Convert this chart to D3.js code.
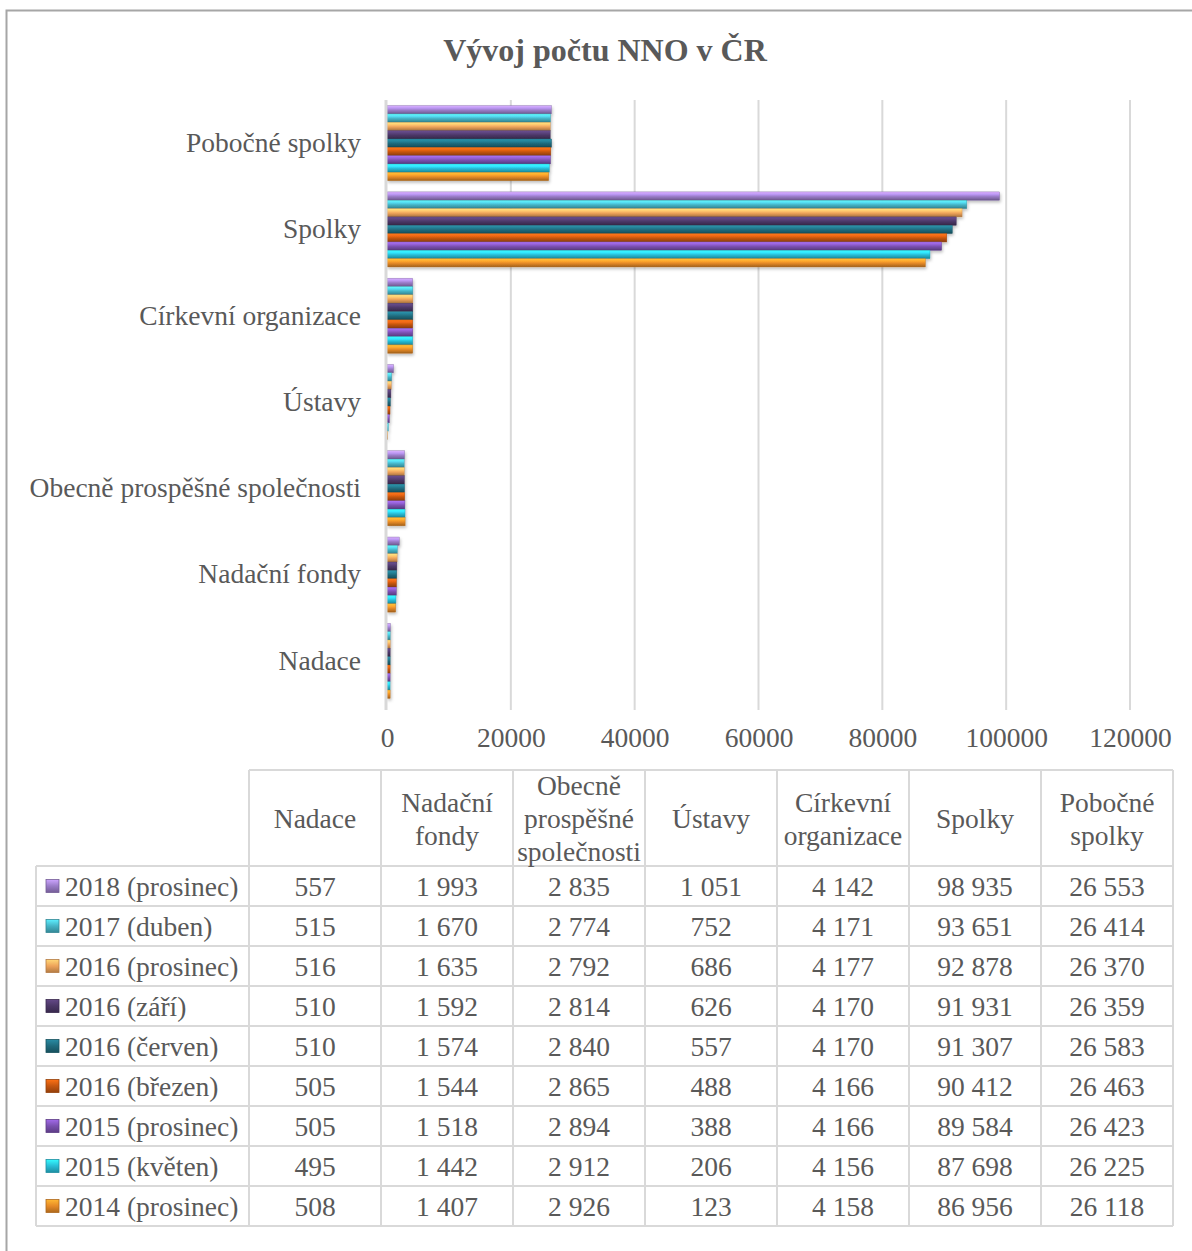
<!DOCTYPE html>
<html><head><meta charset="utf-8">
<script src="https://cdn.jsdelivr.net/npm/d3@7"></script>
<style>body{margin:0;background:#fff}svg{display:block;font-family:"Liberation Serif","Times New Roman",serif}</style>
</head><body><svg id="c" width="1192" height="1251"></svg>
<script>
const categories = ["Nadace","Nadační fondy","Obecně prospěšné společnosti","Ústavy","Církevní organizace","Spolky","Pobočné spolky"];
const headerLines = [["Nadace"],["Nadační","fondy"],["Obecně","prospěšné","společnosti"],["Ústavy"],["Církevní","organizace"],["Spolky"],["Pobočné","spolky"]];
const seriesNames = ["2018 (prosinec)","2017 (duben)","2016 (prosinec)","2016 (září)","2016 (červen)","2016 (březen)","2015 (prosinec)","2015 (květen)","2014 (prosinec)"];
const s2018pro = [557,1993,2835,1051,4142,98935,26553];
const s2017dub = [515,1670,2774,752,4171,93651,26414];
const s2016pro = [516,1635,2792,686,4177,92878,26370];
const s2016zar = [510,1592,2814,626,4170,91931,26359];
const s2016cer = [510,1574,2840,557,4170,91307,26583];
const s2016bre = [505,1544,2865,488,4166,90412,26463];
const s2015pro = [505,1518,2894,388,4166,89584,26423];
const s2015kve = [495,1442,2912,206,4156,87698,26225];
const s2014pro = [508,1407,2926,123,4158,86956,26118];
const seriesValues = [s2018pro,s2017dub,s2016pro,s2016zar,s2016cer,s2016bre,s2015pro,s2015kve,s2014pro];
const xTicks = [0,20000,40000,60000,80000,100000,120000];
const colors = ["#9a7cc8","#45b4c6","#eea35a","#4b3766","#1f6a7c","#c4550f","#7a50b0","#28bdd6","#e68a26"];

const svg = d3.select("#c");
const txt = "#595959";
const FS = 27.5;
svg.append("rect").attr("x",6.5).attr("y",10.5).attr("width",1200).attr("height",1260)
  .attr("fill","none").attr("stroke","#a6a6a6").attr("stroke-width",2);

svg.append("text").attr("x",605).attr("y",61).attr("text-anchor","middle")
  .attr("font-size",32).attr("font-weight","bold").attr("fill",txt).text("Vývoj počtu NNO v ČR");

const defs = svg.append("defs");
colors.forEach((c,i)=>{
  const base = d3.color(c);
  const g = defs.append("linearGradient").attr("id","g"+i).attr("x1",0).attr("y1",0).attr("x2",0).attr("y2",1);
  [[0,base.brighter(1.0)],[0.3,base.brighter(0.55)],[0.55,base],[0.8,base.darker(0.5)],[1,base.darker(1.1)]]
    .forEach(([o,col])=>g.append("stop").attr("offset",o).attr("stop-color",col.formatHex()));
  const lg = defs.append("linearGradient").attr("id","l"+i).attr("x1",0).attr("y1",0).attr("x2",0).attr("y2",1);
  [[0,base.brighter(0.8)],[0.5,base],[1,base.darker(0.8)]]
    .forEach(([o,col])=>lg.append("stop").attr("offset",o).attr("stop-color",col.formatHex()));
});
const f = defs.append("filter").attr("id","sh").attr("x","-5%").attr("y","-20%").attr("width","120%").attr("height","160%");
f.append("feDropShadow").attr("dx",1).attr("dy",2).attr("stdDeviation",1.5).attr("flood-color","#000").attr("flood-opacity",0.25);

const x = d3.scaleLinear().domain([0,120000]).range([387,1130]);
const y0 = d3.scaleBand().domain(categories.slice().reverse()).range([100,704]).paddingInner(0.13).paddingOuter(0.065);
const y1 = d3.scaleBand().domain(seriesNames).range([0,y0.bandwidth()]);

svg.append("g").selectAll("line").data(xTicks.slice(1)).join("line")
  .attr("x1",d=>x(d)).attr("x2",d=>x(d)).attr("y1",100).attr("y2",710)
  .attr("stroke","#d9d9d9").attr("stroke-width",2);

const bars = svg.append("g").attr("filter","url(#sh)");
categories.forEach((cat,ci)=>{
  seriesNames.forEach((s,si)=>{
    const v = seriesValues[si][ci];
    bars.append("rect").attr("x",x(0)).attr("y",y0(cat)+y1(s))
      .attr("width",x(v)-x(0)).attr("height",y1.bandwidth())
      .attr("fill",`url(#g${si})`).attr("stroke",d3.color(colors[si]).darker(0.6)).attr("stroke-width",0.4);
  });
});
svg.append("line").attr("x1",x(0)-1).attr("x2",x(0)-1).attr("y1",100).attr("y2",710).attr("stroke","#d9d9d9").attr("stroke-width",3);

const yAxis = d3.axisLeft(y0).tickSize(0).tickPadding(0);
const ya = svg.append("g").attr("transform","translate(361,0)").call(yAxis);
ya.select(".domain").remove();
ya.selectAll("text").attr("font-size",FS).attr("fill",txt).attr("font-family","Liberation Serif");

const xAxis = d3.axisBottom(x).tickValues(xTicks).tickFormat(d3.format("d")).tickSize(0).tickPadding(0);
const xa = svg.append("g").attr("transform","translate(0,727)").call(xAxis);
xa.select(".domain").remove();
xa.selectAll("text").attr("font-size",FS).attr("fill",txt).attr("font-family","Liberation Serif").attr("dy","0.71em");

const loc = d3.formatLocale({decimal:",",thousands:"\u00a0",grouping:[3],currency:["","Kč"]});
const fmt = loc.format(",d");
const colX = d3.scaleBand().domain(categories).range([249,1173]);
const legendX0 = 36, headTop = 770, headBot = 866, rowH = 40;
const rowY = d3.scaleBand().domain(seriesNames).range([headBot, headBot + rowH*seriesNames.length]);
const tg = svg.append("g");
const lc = "#d9d9d9";
tg.append("line").attr("x1",249).attr("x2",1173).attr("y1",headTop).attr("y2",headTop).attr("stroke",lc).attr("stroke-width",2);
seriesNames.concat(["end"]).forEach((s,i)=>{
  const yy = headBot + i*rowH;
  tg.append("line").attr("x1",legendX0).attr("x2",1173).attr("y1",yy).attr("y2",yy).attr("stroke",lc).attr("stroke-width",2);
});
tg.append("line").attr("x1",legendX0).attr("x2",legendX0).attr("y1",headBot).attr("y2",headBot+rowH*9).attr("stroke",lc).attr("stroke-width",2);
categories.concat(["end"]).forEach((c,i)=>{
  const xx = 249 + i*colX.step();
  tg.append("line").attr("x1",xx).attr("x2",xx).attr("y1",headTop).attr("y2",headBot+rowH*9).attr("stroke",lc).attr("stroke-width",2);
});
categories.forEach((c,i)=>{
  const lines = headerLines[i];
  const cx = colX(c)+colX.bandwidth()/2;
  const cy = 828 - (lines.length-1)*33/2;
  lines.forEach((ln,j)=>{
    tg.append("text").attr("x",cx).attr("y",cy+j*33).attr("text-anchor","middle").attr("font-size",FS).attr("fill",txt).text(ln);
  });
});
seriesNames.forEach((s,si)=>{
  const yy = rowY(s)+rowH/2+9.5;
  tg.append("rect").attr("x",46).attr("y",rowY(s)+rowH/2-6.5).attr("width",13).attr("height",13)
    .attr("fill",`url(#l${si})`).attr("stroke",d3.color(colors[si]).darker(0.8)).attr("stroke-width",0.8);
  tg.append("text").attr("x",65).attr("y",yy).attr("font-size",FS).attr("fill",txt).text(s);
  categories.forEach((c,ci)=>{
    tg.append("text").attr("x",colX(c)+colX.bandwidth()/2).attr("y",yy).attr("text-anchor","middle")
      .attr("font-size",FS).attr("fill",txt).text(fmt(seriesValues[si][ci]));
  });
});
</script></body></html>
